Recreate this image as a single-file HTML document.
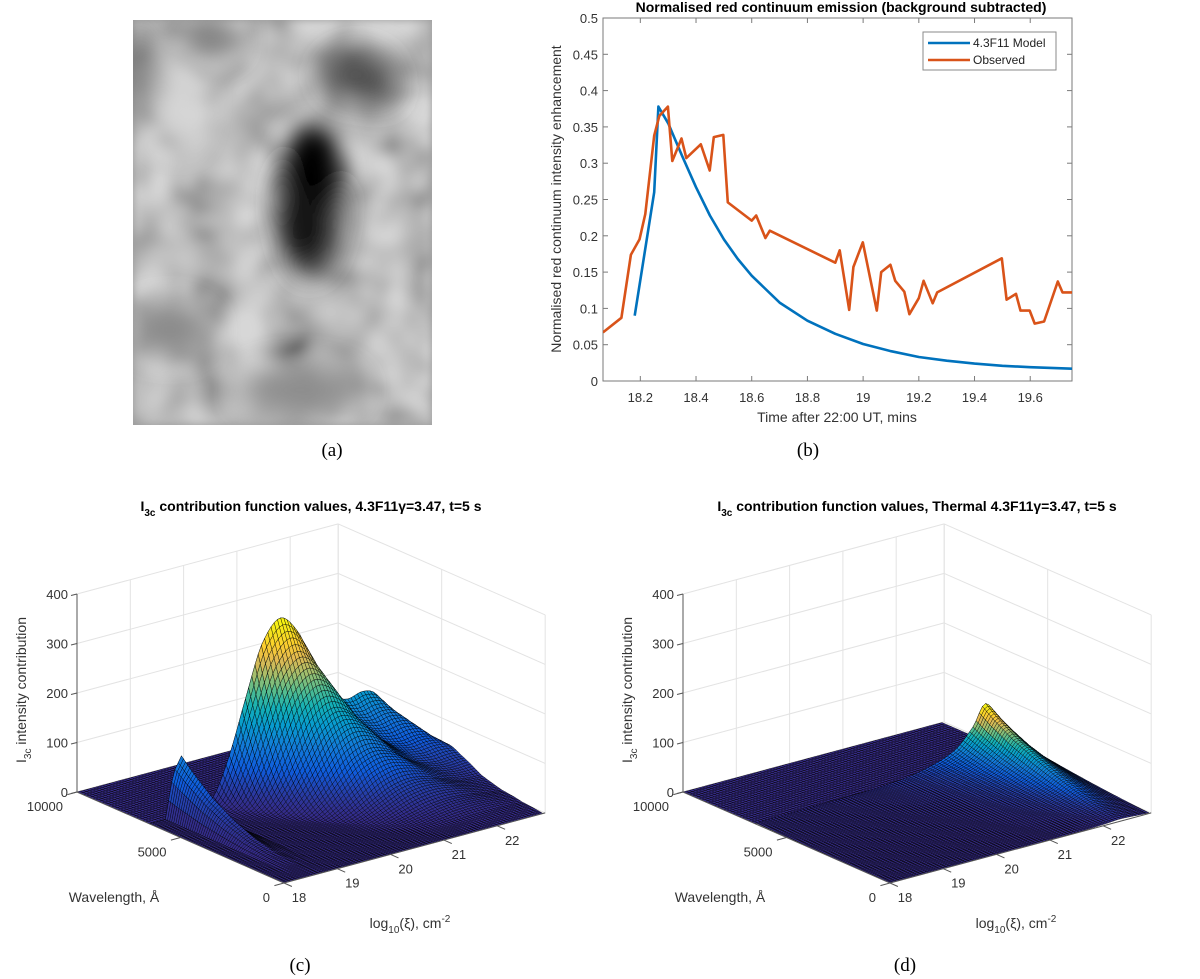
<!DOCTYPE html>
<html><head><meta charset="utf-8"><style>
html,body{margin:0;padding:0;background:#fff;}
svg{display:block;font-family:"Liberation Sans",sans-serif;}
.tk{font-size:13px;fill:#333;}
.cap{font-family:"Liberation Serif",serif;font-size:19px;fill:#000;}
</style></head><body>
<svg id="root" width="1200" height="979" viewBox="0 0 1200 979" xmlns="http://www.w3.org/2000/svg">
<defs>
<filter id="tex" x="0" y="0" width="100%" height="100%">
<feTurbulence type="fractalNoise" baseFrequency="0.022" numOctaves="2" seed="7" result="n"/>
<feColorMatrix in="n" type="matrix" values="0.33 0.33 0.33 0 0 0.33 0.33 0.33 0 0 0.33 0.33 0.33 0 0 0 0 0 0 1" result="g"/>
<feComponentTransfer in="g"><feFuncR type="linear" slope="2.4" intercept="-0.55"/><feFuncG type="linear" slope="2.4" intercept="-0.55"/><feFuncB type="linear" slope="2.4" intercept="-0.55"/></feComponentTransfer>
<feGaussianBlur stdDeviation="4"/>
</filter>
<filter id="bl8" x="-100%" y="-100%" width="300%" height="300%"><feGaussianBlur stdDeviation="12"/></filter>
<filter id="bl14" x="-100%" y="-100%" width="300%" height="300%"><feGaussianBlur stdDeviation="14"/></filter>
<clipPath id="imgclip"><rect x="133" y="20" width="299" height="405"/></clipPath>
<clipPath id="bclip"><rect x="603" y="18" width="469" height="363"/></clipPath>
</defs>

<g clip-path="url(#imgclip)">
<rect x="133" y="20" width="299" height="405" fill="#9c9c9c"/>
<rect x="133" y="20" width="299" height="405" filter="url(#tex)" opacity="0.6"/>
<g filter="url(#bl14)">
<ellipse cx="178" cy="105" rx="22" ry="40" fill="#d8d8d8"/>
<ellipse cx="140" cy="70" rx="10" ry="50" fill="#555"/>
<ellipse cx="212" cy="40" rx="25" ry="18" fill="#777"/>
<ellipse cx="357" cy="75" rx="35" ry="25" fill="#505050"/>
<ellipse cx="380" cy="90" rx="18" ry="16" fill="#444"/>
<ellipse cx="170" cy="330" rx="40" ry="25" fill="#8a8a8a"/>
<ellipse cx="300" cy="390" rx="60" ry="25" fill="#8c8c8c"/>
</g>
<g filter="url(#bl8)">
<ellipse cx="310" cy="205" rx="34" ry="75" fill="#444"/>
<ellipse cx="313" cy="170" rx="28" ry="45" fill="#000"/>
<ellipse cx="305" cy="225" rx="22" ry="38" fill="#111"/>
</g>
</g>
<text class="cap" x="332" y="456" text-anchor="middle">(a)</text>
<text class="cap" x="808" y="456" text-anchor="middle">(b)</text>
<text class="cap" x="300" y="971" text-anchor="middle">(c)</text>
<text class="cap" x="905" y="971" text-anchor="middle">(d)</text>

<g id="panelB"></g>
<g id="panelC"></g>
<g id="panelD"></g>
</svg>
<script>
// ---------- Panel (b) data ----------
const xTickVals = [18.2,18.4,18.6,18.8,19,19.2,19.4,19.6];
const xTickLabels = ["18.2","18.4","18.6","18.8","19","19.2","19.4","19.6"];
const yTickVals = [0,0.05,0.1,0.15,0.2,0.25,0.3,0.35,0.4,0.45,0.5];
const yTickLabels = ["0","0.05","0.1","0.15","0.2","0.25","0.3","0.35","0.4","0.45","0.5"];
const modelX = [18.18,18.25,18.265,18.3,18.35,18.4,18.45,18.5,18.55,18.6,18.7,18.8,18.9,19.0,19.1,19.2,19.3,19.4,19.5,19.6,19.75];
const modelY = [0.09,0.26,0.378,0.355,0.31,0.267,0.228,0.195,0.168,0.145,0.108,0.083,0.065,0.051,0.041,0.033,0.028,0.024,0.021,0.019,0.017];
const obsX = [18.066,18.132,18.166,18.197,18.218,18.25,18.268,18.299,18.315,18.348,18.365,18.417,18.449,18.464,18.498,18.514,18.6,18.616,18.649,18.665,18.9,18.916,18.95,18.965,18.999,19.049,19.065,19.098,19.115,19.148,19.166,19.2,19.217,19.25,19.266,19.498,19.515,19.549,19.565,19.598,19.616,19.65,19.699,19.716,19.75];
const obsY = [0.067,0.087,0.174,0.195,0.23,0.338,0.365,0.378,0.303,0.334,0.307,0.326,0.29,0.336,0.339,0.246,0.221,0.228,0.197,0.207,0.163,0.18,0.098,0.157,0.191,0.097,0.15,0.16,0.138,0.123,0.092,0.114,0.138,0.107,0.122,0.169,0.112,0.12,0.097,0.097,0.079,0.082,0.137,0.122,0.122];

// ---------- Panel (c)/(d) surface data ----------
const zTicks = [0,100,200,300,400];
const xiTicks = [18,19,20,21,22];
const lamTicks = [0,5000,10000];
const edgeLambda = 6500;
const cProfXi = [18,18.6,18.9,19.2,19.5,19.8,20.1,20.45,20.8,21.1,21.4,21.7,22.0,22.25,22.5,22.7,22.9];
const cProfVal = [0,0,2,20,95,200,300,345,305,225,165,145,152,140,90,45,15];
const cSlabXi = [18,18.3,18.45,18.6,18.75,18.95,22.9];
const cSlabVal = [0,0,90,120,50,0,0];
const lamSamples = [0,1000,2000,3000,4000,5000,6000,6500];
const cAmp = [0.0,0.02,0.07,0.16,0.31,0.52,0.82,1.0];
const cShift = [2.2,1.8,1.4,1.05,0.72,0.42,0.12,0];
const dProfXi = [18,19,20,20.5,21,21.5,21.8,22.1,22.3,22.5,22.7,22.9];
const dProfVal = [2,3,5,8,14,28,45,80,118,95,58,30];
const dAmp = [0.04,0.12,0.22,0.34,0.48,0.64,0.86,1.0];

const NS = "http://www.w3.org/2000/svg";
function mk(parent, tag, attrs, text){
  const e = document.createElementNS(NS, tag);
  for (const k in attrs) e.setAttribute(k, attrs[k]);
  if (text !== undefined) e.textContent = text;
  parent.appendChild(e);
  return e;
}
function interp(xs, ys, x){
  if (x <= xs[0]) return ys[0];
  if (x >= xs[xs.length-1]) return ys[ys.length-1];
  for (let i=1;i<xs.length;i++){
    if (x <= xs[i]){ const t=(x-xs[i-1])/(xs[i]-xs[i-1]); return ys[i-1]+t*(ys[i]-ys[i-1]); }
  }
}
function smoothInterp(xs, ys, x){
  if (x <= xs[0]) return ys[0];
  if (x >= xs[xs.length-1]) return ys[ys.length-1];
  let i=1; while (x > xs[i]) i++;
  const t=(x-xs[i-1])/(xs[i]-xs[i-1]);
  const p0=ys[Math.max(i-2,0)], p1=ys[i-1], p2=ys[i], p3=ys[Math.min(i+1,ys.length-1)];
  const v = 0.5*((2*p1)+(-p0+p2)*t+(2*p0-5*p1+4*p2-p3)*t*t+(-p0+3*p1-3*p2+p3)*t*t*t);
  return Math.max(0,v);
}

// ---------- draw panel (b) ----------
(function(){
  const g = document.getElementById('panelB');
  const L=603,R=1072,T=18,B=381, xmin=18.066, xmax=19.75, ymin=0, ymax=0.5;
  const sx = v => L + (v-xmin)/(xmax-xmin)*(R-L);
  const sy = v => B - (v-ymin)/(ymax-ymin)*(B-T);
  mk(g,'rect',{x:L,y:T,width:R-L,height:B-T,fill:'#fff',stroke:'#7a7a7a','stroke-width':1,});
  xTickVals.forEach((v,i)=>{
    const x=sx(v);
    mk(g,'line',{x1:x,y1:B,x2:x,y2:B-5,stroke:'#7a7a7a'});
    mk(g,'line',{x1:x,y1:T,x2:x,y2:T+5,stroke:'#7a7a7a'});
    const t=mk(g,'text',{x:x,y:B+21,'text-anchor':'middle',class:'tk'},xTickLabels[i]);
    
    
  });
  yTickVals.forEach((v,i)=>{
    const y=sy(v);
    mk(g,'line',{x1:L,y1:y,x2:L+5,y2:y,stroke:'#7a7a7a'});
    mk(g,'line',{x1:R,y1:y,x2:R-5,y2:y,stroke:'#7a7a7a'});
    const t=mk(g,'text',{x:L-5,y:y+5,'text-anchor':'end',class:'tk'},yTickLabels[i]);
    
    
  });
  const cg = mk(g,'g',{'clip-path':'url(#bclip)'});
  const mp = modelX.map((v,i)=>sx(v).toFixed(1)+','+sy(modelY[i]).toFixed(1)).join(' ');
  const ml = mk(cg,'polyline',{points:mp,fill:'none',stroke:'#0072BD','stroke-width':2.6,'stroke-linejoin':'round'});
  
  
  const op = obsX.map((v,i)=>sx(v).toFixed(1)+','+sy(obsY[i]).toFixed(1)).join(' ');
  const ol = mk(cg,'polyline',{points:op,fill:'none',stroke:'#D95319','stroke-width':2.6,'stroke-linejoin':'round'});
  
  
  const tt = mk(g,'text',{x:841,y:12,'text-anchor':'middle','font-size':'14px','font-weight':'bold',fill:'#000'},'Normalised red continuum emission (background subtracted)');
  
  
  const xl = mk(g,'text',{x:837,y:422,'text-anchor':'middle','font-size':'14px',fill:'#333'},'Time after 22:00 UT, mins');
  
  
  const yl = mk(g,'text',{x:0,y:0,'text-anchor':'middle','font-size':'14px',fill:'#333',transform:'translate(561,199) rotate(-90)'},'Normalised red continuum intensity enhancement');
  
  
  const lg = mk(g,'g',{});
  
  
  mk(lg,'rect',{x:923,y:32,width:133,height:38,fill:'#fff',stroke:'#8a8a8a','stroke-width':1});
  mk(lg,'line',{x1:928,y1:43,x2:970,y2:43,stroke:'#0072BD','stroke-width':2.6});
  mk(lg,'line',{x1:928,y1:60,x2:970,y2:60,stroke:'#D95319','stroke-width':2.6});
  const e1=mk(lg,'text',{x:973,y:47,'font-size':'12px',fill:'#222'},'4.3F11 Model');
  
  
  const e2=mk(lg,'text',{x:973,y:64,'font-size':'12px',fill:'#222'},'Observed');
  
  
})();

// ---------- 3D surface panels ----------
const parula = [[53,42,135],[15,92,221],[18,125,216],[7,156,207],[21,177,180],[89,189,140],[165,190,107],[225,185,82],[252,206,46],[245,227,29],[249,251,14]];
function pcol(t){
  t=Math.max(0,Math.min(1,t));
  t=Math.pow(t,1.5);
  const f=t*10, i=Math.min(9,Math.floor(f)), u=f-i;
  const a=parula[i], b=parula[i+1];
  return 'rgb('+Math.round(a[0]+(b[0]-a[0])*u)+','+Math.round(a[1]+(b[1]-a[1])*u)+','+Math.round(a[2]+(b[2]-a[2])*u)+')';
}
function surfacePanel(gid, ox, titleMain, valueFn){
  const g=document.getElementById(gid);
  const XIMAX=22.9;
  const P=(xi,lam,z)=>[ox+284+(xi-18)*53.3-lam/10000*207, 883-(xi-18)*14.3-lam/10000*91-z*0.495];
  const ln=(a,b,st,w)=>mk(g,'line',{x1:a[0].toFixed(1),y1:a[1].toFixed(1),x2:b[0].toFixed(1),y2:b[1].toFixed(1),stroke:st,'stroke-width':w||1});
  const grid='#e3e3e3';
  xiTicks.concat([XIMAX]).forEach(v=>ln(P(v,10000,0),P(v,10000,400),grid));
  zTicks.forEach(z=>ln(P(18,10000,z),P(XIMAX,10000,z),grid));
  lamTicks.forEach(l=>ln(P(XIMAX,l,0),P(XIMAX,l,400),grid));
  zTicks.forEach(z=>ln(P(XIMAX,0,z),P(XIMAX,10000,z),grid));
  xiTicks.forEach(v=>ln(P(v,0,0),P(v,10000,0),grid));
  lamTicks.forEach(l=>ln(P(18,l,0),P(XIMAX,l,0),grid));
  const lams=[];
  for(let l=0;l<=edgeLambda;l+=100) lams.push(l);
  lams.push(edgeLambda+20);
  for(let l=6700;l<=10000;l+=150) lams.push(l);
  const xis=[]; for(let x=18;x<=XIMAX+1e-6;x+=0.06) xis.push(Math.min(x,XIMAX));
  const V=lams.map(l=>xis.map(x=>valueFn(x,l)));
  let vmax=0; V.forEach(r=>r.forEach(v=>{if(v>vmax)vmax=v;}));
  const quads=[];
  for(let i=0;i<lams.length-1;i++) for(let j=0;j<xis.length-1;j++){
    const pts=[[xis[j],lams[i],V[i][j]],[xis[j+1],lams[i],V[i][j+1]],[xis[j+1],lams[i+1],V[i+1][j+1]],[xis[j],lams[i+1],V[i+1][j]]];
    const cx=(xis[j]+xis[j+1])/2, cl=(lams[i]+lams[i+1])/2;
    const depth=P(cx,cl,0)[1];
    const avg=(pts[0][2]+pts[1][2]+pts[2][2]+pts[3][2])/4;
    quads.push({pts,depth,avg});
  }
  quads.sort((a,b)=>a.depth-b.depth);
  const sg=mk(g,'g',{stroke:'#000','stroke-width':0.45,'stroke-opacity':0.85});
  
  
  let html='';
  quads.forEach(q=>{
    const s=q.pts.map(p=>{const r=P(p[0],p[1],p[2]);return r[0].toFixed(1)+','+r[1].toFixed(1);}).join(' ');
    html+='<polygon points="'+s+'" fill="'+pcol(q.avg/vmax)+'"/>';
  });
  sg.innerHTML=html;
  const ax='#555';
  ln(P(18,10000,0),P(18,10000,400),ax);
  zTicks.forEach(z=>{
    const p=P(18,10000,z); ln(p,[p[0]-6,p[1]+1.5],ax);
    const t=mk(g,'text',{x:p[0]-9,y:p[1]+5,'text-anchor':'end',class:'tk'},String(z));
    
    
  });
  ln(P(18,10000,0),P(18,0,0),ax);
  lamTicks.forEach(l=>{
    const p=P(18,l,0), q=P(17.82,l,0); ln(p,q,ax);
    const t=mk(g,'text',{x:p[0]-14,y:p[1]+19,'text-anchor':'end',class:'tk'},String(l));
    
    
  });
  ln(P(18,0,0),P(XIMAX,0,0),ax);
  xiTicks.forEach(v=>{
    const p=P(v,0,0), q=P(v,-380,0); ln(p,q,ax);
    const t=mk(g,'text',{x:p[0]+15,y:p[1]+19,'text-anchor':'middle',class:'tk'},String(v));
    
    
  });
  const tt=mk(g,'text',{x:ox+311,y:511,'text-anchor':'middle','font-size':'14px','font-weight':'bold',fill:'#000'});
  tt.innerHTML='I<tspan font-size="10px" dy="5">3c</tspan><tspan dy="-5"> '+titleMain+'</tspan>';
  
  
  const zl=mk(g,'text',{x:0,y:0,'text-anchor':'middle','font-size':'14px',fill:'#333',transform:'translate('+(ox+26)+',690) rotate(-90)'});
  zl.innerHTML='I<tspan font-size="10px" dy="5">3c</tspan><tspan dy="-5"> intensity contribution</tspan>';
  
  
  const wl=mk(g,'text',{x:ox+114,y:902,'text-anchor':'middle','font-size':'14px',fill:'#333'},'Wavelength, Å');
  
  
  const xl=mk(g,'text',{x:ox+410,y:928,'text-anchor':'middle','font-size':'14px',fill:'#333'});
  xl.innerHTML='log<tspan font-size="10px" dy="5">10</tspan><tspan dy="-5">(ξ), cm</tspan><tspan font-size="10px" dy="-6">-2</tspan>';
  
  
}
surfacePanel('panelC',0,'contribution function values, 4.3F11γ=3.47, t=5 s',(xi,lam)=>{
  if(lam>edgeLambda) return 0;
  const a=interp(lamSamples,cAmp,lam), s=interp(lamSamples,cShift,lam);
  return a*(smoothInterp(cProfXi,cProfVal,xi-s)+interp(cSlabXi,cSlabVal,xi));
});
surfacePanel('panelD',606,'contribution function values, Thermal 4.3F11γ=3.47, t=5 s',(xi,lam)=>{
  if(lam>edgeLambda) return 0;
  const a=interp(lamSamples,dAmp,lam);
  return a*smoothInterp(dProfXi,dProfVal,xi);
});
</script>
</body></html>
